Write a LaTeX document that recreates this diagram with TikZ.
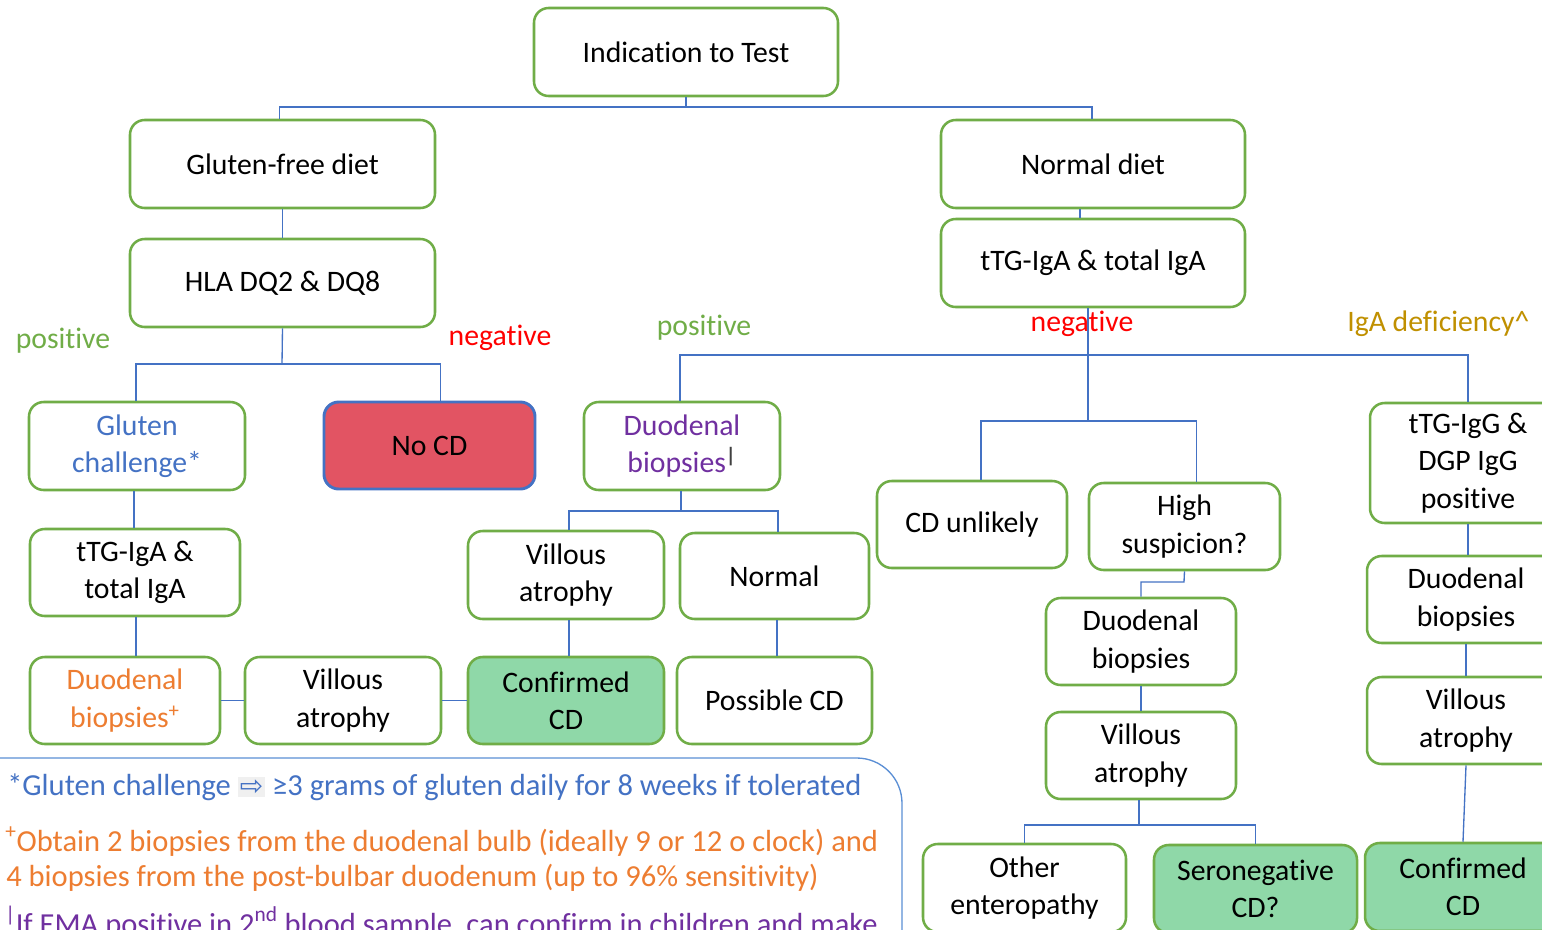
\documentclass[tikz,border=0pt]{standalone}
\usepackage{fontspec}
\setmainfont{Carlito}[Ligatures=NoCommon]
\newfontfamily\symfont{DejaVu Sans}
\usetikzlibrary{calc}
\definecolor{gborder}{HTML}{70AD47}
\definecolor{lblue}{HTML}{4472C4}
\definecolor{nblue}{HTML}{5B8FD5}
\definecolor{redfill}{HTML}{E25463}
\definecolor{greenfill}{HTML}{8FD8A8}
\definecolor{orangetxt}{HTML}{ED7D31}
\definecolor{purpletxt}{HTML}{7030A0}
\definecolor{goldtxt}{HTML}{C09000}
\definecolor{negred}{HTML}{FF0000}
\newcommand\myfs{\fontsize{22.3}{28}\selectfont}
\newcommand\notefs{\fontsize{22.9}{27}\selectfont}
\tikzset{
  box/.style={draw=gborder, line width=1.9pt, rounded corners=11pt, fill=white,
    align=center, font=\myfs, inner sep=2pt},
  sz/.style 2 args={minimum width=#1*0.75pt, minimum height=#2*0.75pt},
  greenbox/.style={box, fill=greenfill},
  redbox/.style={box, fill=redfill, draw=lblue, line width=2.2pt},
  conn/.style={draw=lblue, line width=1pt},
  lbl/.style={font=\myfs, inner sep=0pt},
  note/.style={font=\notefs, inner sep=0pt, anchor=base west},
}
\begin{document}
\begin{tikzpicture}[x=0.75pt,y=-0.75pt]
\path[use as bounding box] (0,0) rectangle (1542,929);
\clip (0,0) rectangle (1542,929);
\fill[white] (0,0) rectangle (1542,929);

% nodes
\node[box, sz={304}{88}] (ind) at (686,52) {Indication to Test};
\node[box, sz={305}{88}] (gfd) at (282.5,164) {Gluten-free diet};
\node[box, sz={304}{88}] (nd) at (1093,164) {Normal diet};
\node[box, sz={305}{88}] (hla) at (282.5,283) {HLA DQ2 \& DQ8};
\node[box, sz={304}{88}] (ttg) at (1093,263) {tTG-IgA \& total IgA};
\node[box, sz={216}{88}, text=lblue] (gc) at (137,446) {Gluten\\challenge*};
\node[redbox, sz={211}{87}] (nocd) at (429.5,445.5) {No CD};
\node[box, sz={196}{88}, text=purpletxt] (db1) at (682,446) {Duodenal\\biopsies\textcolor{black!75}{\textsuperscript{\bfseries|}}};
\node[box, sz={210}{87}] (ttg2) at (135,572.5) {tTG-IgA \&\\total IgA};
\node[box, sz={196}{88}] (va1) at (566,575) {Villous\\atrophy};
\node[box, sz={189}{86}] (norm) at (774.5,576) {Normal};
\node[box, sz={190}{87}, text=orangetxt] (db2) at (125,700.5) {Duodenal\\biopsies\textsuperscript{+}};
\node[box, sz={196}{87}] (va2) at (343,700.5) {Villous\\atrophy};
\node[greenbox, sz={196}{87}] (ccd1) at (566,700.5) {Confirmed\\CD};
\node[box, sz={195}{87}] (pcd) at (774.5,700.5) {Possible CD};
\node[box, sz={190}{87}] (cdu) at (972,524.5) {CD unlikely};
\node[box, sz={191}{87}] (hs) at (1184.5,526.5) {High\\suspicion?};
\node[box, sz={190}{87}] (db3) at (1141,641.5) {Duodenal\\biopsies};
\node[box, sz={190}{87}] (va3) at (1141,755.5) {Villous\\atrophy};
\node[box, sz={203}{88}] (oe) at (1024.5,888) {Other\\enteropathy};
\node[greenbox, sz={203}{88}] (scd) at (1255.5,889) {Seronegative\\CD?};
\node[greenbox, sz={196}{88}] (ccd2) at (1463,887) {Confirmed\\CD};
\node[box, sz={196}{120}] (tgg) at (1468,463) {tTG-IgG \&\\DGP IgG\\positive};
\node[box, sz={198}{87}] (db4) at (1466,599.5) {Duodenal\\biopsies};
\node[box, sz={198}{87}] (va4) at (1466,720.5) {Villous\\atrophy};

% junction coordinates
\coordinate (j1) at (686,107);
\coordinate (j2) at (282,364);
\coordinate (j3) at (1088,355);
\coordinate (j4) at (1088,421);
\coordinate (j5) at (681,511);
\coordinate (j6) at (1184,582);
\coordinate (j7) at (1139,825);

% connectors
\draw[conn] (ind.south) -- (j1);
\draw[conn] ($(gfd.north)+(-3,0)$) |- (j1) -| ($(nd.north)+(-1,0)$);
\draw[conn] (gfd.south) -- (hla.north);
\draw[conn] ($(nd.south)+(-13,0)$) -- ($(ttg.north)+(-13,0)$);
\draw[conn] (hla.south) -- (j2);
\draw[conn] ($(gc.north)+(-1,0)$) |- (j2) -| ($(nocd.north)+(11,0)$);
\draw[conn] ($(gc.south)+(-3,0)$) -- ($(gc.south |- ttg2.north)+(-3,0)$);
\draw[conn] ($(ttg2.south)+(1,0)$) -- ($(ttg2.south |- db2.north)+(1,0)$);
\draw[conn] (db2.east) -- (va2.west);
\draw[conn] (va2.east) -- (ccd1.west);
\draw[conn] ($(ttg.south)+(-5,0)$) -- (j3);
\draw[conn] ($(db1.north)+(-2,0)$) |- (j3) -| (tgg.north);
\draw[conn] (j3) -- (j4);
\draw[conn] ($(cdu.north)+(9,0)$) |- (j4) -| ($(hs.north)+(12,0)$);
\draw[conn] ($(db1.south)+(-1,0)$) -- (j5);
\draw[conn] ($(va1.north)+(3,0)$) |- (j5) -| ($(norm.north)+(3.5,0)$);
\draw[conn] ($(va1.south)+(3,0)$) -- ($(ccd1.north)+(3,0)$);
\draw[conn] ($(norm.south)+(2.5,0)$) -- ($(norm.south |- pcd.north)+(2.5,0)$);
\draw[conn] (hs.south) -- (j6) -| (db3.north);
\draw[conn] (db3.south) -- (va3.north);
\draw[conn] ($(va3.south)+(-2,0)$) -- (j7);
\draw[conn] (oe.north) |- (j7) -| (scd.north);
\draw[conn] (tgg.south) -- (tgg.south |- db4.north);
\draw[conn] (db4.south) -- (va4.north);
\draw[conn] (va4.south) -- (ccd2.north);

% branch labels
\node[lbl, text=gborder] (pos1) at (63,341) {positive};
\node[lbl, text=negred] (neg1) at (500,338) {negative};
\node[lbl, text=gborder] (pos2) at (704,328) {positive};
\node[lbl, text=negred] (neg2) at (1082,324) {negative};
\node[lbl, text=goldtxt, anchor=west] (igad) at (1347,324) {IgA deficiency\textasciicircum};

% notes box
\draw[draw=nblue, line width=1pt, rounded corners=34pt] (-20,758) -- (902,758) -- (902,990);
\node[note, text=lblue] (n1) at (7,795) {*Gluten challenge {\setlength\fboxsep{1.5pt}\colorbox{black!6}{\symfont\fontsize{21}{22}\selectfont ⇨}} ≥3 grams of gluten daily for 8 weeks if tolerated};
\node[note, text=orangetxt] (n2) at (5,851) {\textsuperscript{+}Obtain 2 biopsies from the duodenal bulb (ideally 9 or 12 o clock) and};
\node[note, text=orangetxt] (n3) at (6,886) {4 biopsies from the post-bulbar duodenum (up to 96\% sensitivity)};
\node[note, text=purpletxt] (n4) at (5,934) {\textsuperscript{|}If EMA positive in 2\textsuperscript{nd} blood sample, can confirm in children and make};
\end{tikzpicture}
\end{document}
